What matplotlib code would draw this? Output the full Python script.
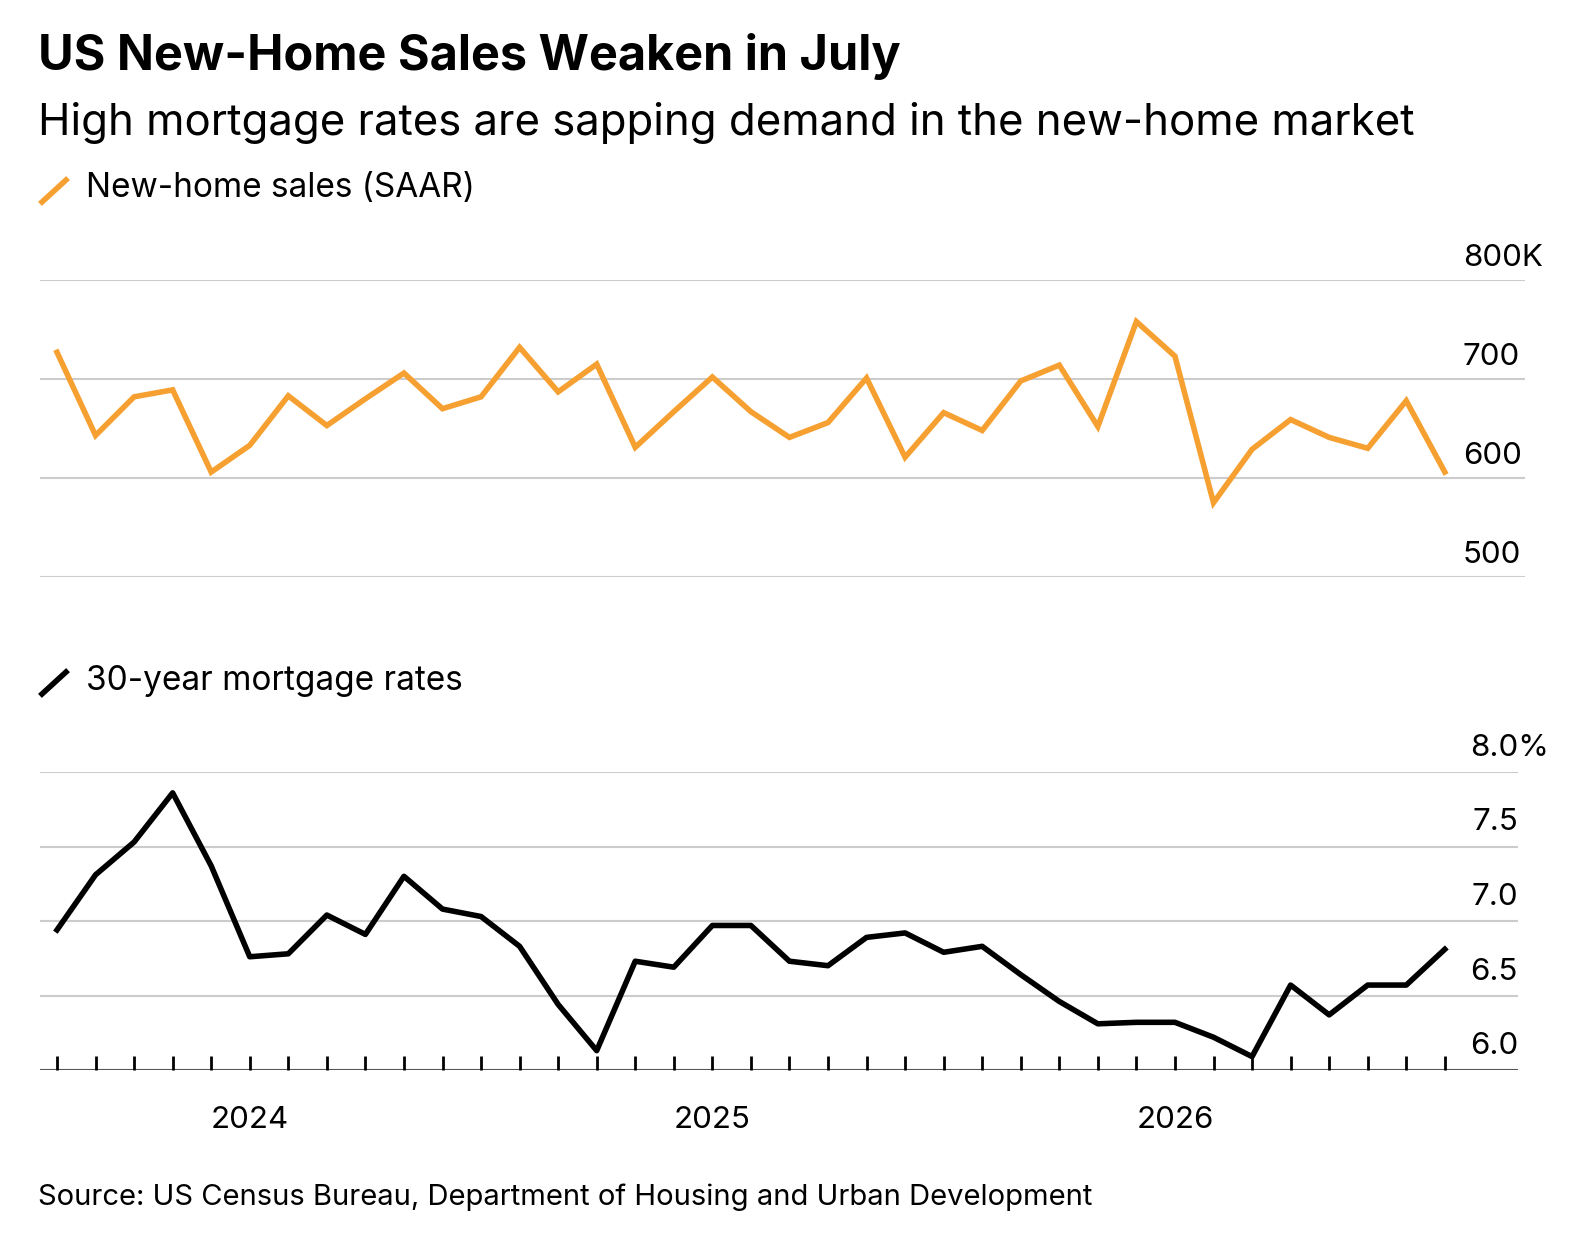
import matplotlib
matplotlib.use("Agg")
import matplotlib.pyplot as plt
import matplotlib.transforms as mt
import numpy as np

plt.rcParams['font.family'] = ['Inter', 'DejaVu Sans']

months = np.arange(37)  # Aug 2023 .. Aug 2026
sales = [727, 643, 682, 689, 606, 633, 683, 653, 680, 706, 670, 682, 732, 687, 715, 631,
         667, 702, 667, 641, 656, 701, 621, 666, 648, 698, 714, 652, 758, 723, 575, 629,
         659, 641, 630, 678, 606]
rates = [6.94, 7.31, 7.53, 7.86, 7.37, 6.76, 6.78, 7.04, 6.91, 7.30, 7.08, 7.03, 6.83, 6.44,
         6.13, 6.73, 6.69, 6.97, 6.97, 6.73, 6.70, 6.89, 6.92, 6.79, 6.83, 6.64, 6.46, 6.31,
         6.32, 6.32, 6.22, 6.09, 6.57, 6.37, 6.57, 6.57, 6.81]
sales_ticks = [500, 600, 700, 800]
sales_labels = ["500", "600", "700", "800K"]
rate_ticks = [6.0, 6.5, 7.0, 7.5, 8.0]
rate_labels = ["6.0", "6.5", "7.0", "7.5", "8.0%"]
year_pos = [5, 17, 29]
year_labels = ["2024", "2025", "2026"]

W, H = 1580, 1247
fig = plt.figure(figsize=(W/100, H/100), dpi=100)
def rect(x0, y0, x1, y1):
    return [x0/W, 1-y1/H, (x1-x0)/W, (y1-y0)/H]

px = 38.55
xl = (-(57-40)/px, (1520-57)/px)

orange = '#f6a031'
grid = '#cccccc'

ax1 = fig.add_axes(rect(40, 280, 1525, 577))
ax1.plot(months, sales, color=orange, lw=4, solid_joinstyle='miter')
ax1.set_ylim(500, 800)
ax1.set_xlim(xl[0], (1525-57)/px)
for t in sales_ticks:
    ax1.axhline(t, color=grid, lw=1.5, zorder=0)
tr = mt.blended_transform_factory(fig.transFigure, ax1.transData)
for t, l in zip(sales_ticks, sales_labels):
    ax1.text(1463/W, t, l, transform=tr + mt.ScaledTranslation(0, 8/100, fig.dpi_scale_trans),
             ha='left', va='bottom', fontsize=22.5)
ax1.axis('off')

ax2 = fig.add_axes(rect(40, 772, 1518, 1070))
ax2.plot(months, rates, color='black', lw=4)
ax2.set_ylim(6.0, 8.0)
ax2.set_xlim(xl[0], (1518-57)/px)
for t in rate_ticks[1:]:
    ax2.axhline(t, color=grid, lw=1.5, zorder=0)
ax2.axhline(6.0, color='#555555', lw=1.5, zorder=0)
tr2 = mt.blended_transform_factory(fig.transFigure, ax2.transData)
for t, l in zip(rate_ticks, rate_labels):
    ax2.text(1518/W if '%' not in l else 1470/W, t, l,
             transform=tr2 + mt.ScaledTranslation(0, 10/100, fig.dpi_scale_trans),
             ha='right' if '%' not in l else 'left', va='bottom', fontsize=22.5)
for s in ax2.spines.values():
    s.set_visible(False)
ax2.set_yticks([])
ax2.set_xticks(months)
ax2.set_xticklabels([])
ax2.tick_params(axis='x', length=10, width=2, color='black', direction='in', pad=0)
for p, l in zip(year_pos, year_labels):
    ax2.text(p, -0.12, l, transform=mt.blended_transform_factory(ax2.transData, ax2.transAxes),
             ha='center', va='top', fontsize=22.5)

fig.text(38/W, 1-57/H, "US New-Home Sales Weaken in July", fontsize=35, fontweight='bold',
         va='center', ha='left')
fig.text(38/W, 1-123/H, "High mortgage rates are sapping demand in the new-home market",
         fontsize=31.5, va='center', ha='left')
fig.lines.append(plt.Line2D([42/W, 66/W], [1-202/H, 1-180/H], color=orange, lw=4, transform=fig.transFigure))
fig.text(86/W, 1-188/H, "New-home sales (SAAR)", fontsize=24, va='center', ha='left')
fig.lines.append(plt.Line2D([42/W, 66/W], [1-694/H, 1-672/H], color='black', lw=4, transform=fig.transFigure))
fig.text(86/W, 1-681/H, "30-year mortgage rates", fontsize=24, va='center', ha='left')
fig.text(38/W, 1-1197/H, "Source: US Census Bureau, Department of Housing and Urban Development",
         fontsize=21, va='center', ha='left')

fig.savefig("out.png", dpi=100, facecolor='white')
